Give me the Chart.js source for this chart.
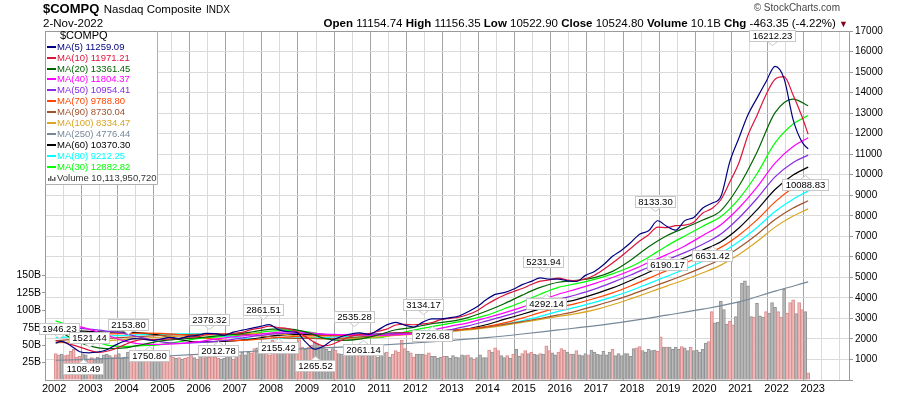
<!DOCTYPE html>
<html>
<head>
<meta charset="utf-8">
<script src="https://cdn.jsdelivr.net/npm/chart.js@4"></script>
<style>
body { margin: 0; background: #fff; font-family: "Liberation Sans", Arial, sans-serif; }
#wrap { position: relative; width: 900px; height: 396px; overflow: hidden; }
#chart { position: absolute; left: 0; top: 0; }
.hdr { position: absolute; white-space: nowrap; color: #000; line-height: 14px; }
</style>
</head>
<body>
<div id="wrap">
  <canvas id="chart" width="900" height="396"></canvas>
  <div class="hdr" style="left:43px;top:1px;"><span style="font-weight:bold;font-size:13px">$COMPQ</span> <span style="font-size:11.5px">Nasdaq Composite</span> <span style="font-size:10px">INDX</span></div>
  <div class="hdr" style="left:43px;top:16px;font-size:11.5px">2-Nov-2022</div>
  <div class="hdr" style="right:52px;top:16px;font-size:11.5px"><b>Open</b> 11154.74 <b>High</b> 11156.35 <b>Low</b> 10522.90 <b>Close</b> 10524.80 <b>Volume</b> 10.1B <b>Chg</b> -463.35 (-4.22%) <span style="color:#800020;font-size:9px">&#9660;</span></div>
  <div class="hdr" style="right:60px;top:1px;font-size:10px;color:#444">&copy; StockCharts.com</div>
</div>
<script>
// monthly Nasdaq moving averages
// sample dates are 'YYYY-MM'

// MA(5) / MA(10): quarterly samples
const qDates = ['2002-01'];
for (let y = 2002; y <= 2021; y++) qDates.push(y + '-03', y + '-06', y + '-09', y + '-12');
qDates.push('2022-03', '2022-06', '2022-09', '2022-11');

const ma5 = [1801, 1878, 1669, 1379, 1326,
  1363, 1472, 1710, 1898,  2011, 1996, 1931, 1996,  2077, 2020, 2123, 2172,
  2273, 2259, 2177, 2331,  2430, 2514, 2610, 2694,  2451, 2356, 2320, 1859,
  1499, 1647, 1944, 2118,  2239, 2293, 2221, 2428,  2683, 2809, 2672, 2581,
  2820, 2973, 2977, 3038,  3120, 3323, 3569, 3904,  4170, 4255, 4419, 4646,
  4806, 4973, 4916, 4913,  4832, 4799, 5096, 5284,  5612, 6025, 6322, 6686,
  7105, 7271, 7756, 7486,  7302, 7763, 7919, 8378,  8611, 8941, 10647, 11788,
  12919, 13731, 14527, 15278,  14679, 12683, 11579, 11259.09];

const ma10 = [1922, 1857, 1735, 1604, 1457,
  1342, 1400, 1535, 1725,  1894, 1973, 1967, 1982,  2003, 2030, 2082, 2109,
  2203, 2231, 2234, 2276,  2322, 2451, 2529, 2617,  2556, 2504, 2361, 2113,
  1830, 1664, 1740, 1942,  2119, 2219, 2262, 2362,  2477, 2677, 2715, 2692,
  2731, 2801, 2941, 3003,  3064, 3188, 3377, 3660,  3916, 4131, 4300, 4457,
  4651, 4815, 4876, 4959,  4872, 4840, 4930, 5102,  5378, 5695, 6040, 6408,
  6767, 7077, 7450, 7418,  7515, 7542, 7687, 8135,  8349, 8779, 9652, 10583,
  11926, 12889, 13899, 14652,  14778, 13879, 12809, 11971.21];

// longer averages: half-year samples
const hDates = ['2002-01'];
for (let y = 2002; y <= 2021; y++) hDates.push(y + '-06', y + '-12');
hDates.push('2022-06', '2022-11');

const ma20 = [2502, 2051, 1676, 1528, 1565, 1730, 1902, 1991, 2055, 2138, 2222,
  2337, 2467, 2490, 2341, 2042, 1931, 1988, 2191, 2447, 2567, 2744, 2853,
  3039, 3346, 3716, 4135, 4510, 4763, 4850, 4986, 5291, 5832, 6491, 7028,
  7411, 7793, 8253, 9449, 11098, 13021, 13684, 13361.45];
const ma30 = [2879, 2628, 2079, 1699, 1635, 1673, 1726, 1866, 2012, 2091, 2147,
  2253, 2382, 2419, 2353, 2218, 2136, 2056, 2063, 2234, 2433, 2603, 2754,
  2932, 3146, 3470, 3800, 4179, 4511, 4693, 4900, 5171, 5513, 5982, 6532,
  7016, 7494, 7963, 8827, 10048, 11547, 12466, 12882.82];
const ma40 = [2747, 2683, 2479, 2184, 1890, 1747, 1733, 1770, 1858, 1993, 2099,
  2187, 2288, 2343, 2322, 2234, 2207, 2193, 2169, 2202, 2261, 2428, 2615,
  2786, 3018, 3273, 3553, 3882, 4179, 4427, 4695, 4991, 5333, 5721, 6109,
  6528, 7040, 7562, 8377, 9393, 10564, 11370, 11804.37];
const ma50 = [2545, 2537, 2478, 2380, 2258, 2050, 1856, 1790, 1818, 1880, 1981,
  2113, 2225, 2273, 2267, 2220, 2216, 2220, 2234, 2277, 2276, 2334, 2447,
  2636, 2866, 3109, 3378, 3649, 3922, 4154, 4426, 4757, 5112, 5495, 5859,
  6204, 6613, 7110, 7892, 8840, 9892, 10597, 10954.41];
const ma60 = [2366, 2395, 2367, 2332, 2336, 2288, 2177, 1973, 1855, 1863, 1910,
  1990, 2124, 2215, 2222, 2183, 2195, 2219, 2241, 2294, 2325, 2370, 2405,
  2498, 2690, 2951, 3202, 3467, 3722, 3919, 4185, 4486, 4846, 5246, 5612,
  5958, 6332, 6738, 7405, 8290, 9281, 9980, 10370.30];
const ma70 = [2203, 2236, 2243, 2244, 2262, 2279, 2273, 2216, 2110, 1976, 1918,
  1956, 2032, 2099, 2147, 2150, 2165, 2188, 2223, 2285, 2319, 2377, 2433,
  2496, 2607, 2779, 3016, 3285, 3525, 3736, 3970, 4247, 4581, 4952, 5329,
  5690, 6064, 6460, 7052, 7797, 8679, 9366, 9788.80];
const ma80 = [2058, 2099, 2115, 2134, 2178, 2215, 2233, 2249, 2242, 2195, 2086,
  2005, 2012, 2043, 2058, 2070, 2121, 2162, 2195, 2255, 2300, 2361, 2420,
  2496, 2603, 2724, 2884, 3097, 3339, 3551, 3780, 4050, 4348, 4695, 5046,
  5397, 5783, 6181, 6744, 7430, 8207, 8808, 9212.25];
const ma90 = [1917, 1967, 2000, 2027, 2076, 2129, 2172, 2200, 2225, 2254, 2241,
  2203, 2109, 2043, 2026, 2013, 2038, 2101, 2165, 2226, 2266, 2331, 2397,
  2472, 2578, 2707, 2846, 2996, 3169, 3358, 3601, 3858, 4149, 4475, 4790,
  5128, 5488, 5885, 6440, 7091, 7821, 8377, 8730.04];
const ma100 = [1804, 1846, 1880, 1920, 1978, 2035, 2083, 2130, 2175, 2211, 2240,
  2267, 2266, 2203, 2089, 2008, 2010, 2039, 2088, 2174, 2235, 2297, 2358,
  2436, 2543, 2664, 2804, 2957, 3100, 3233, 3415, 3663, 3954, 4262, 4575,
  4884, 5221, 5596, 6114, 6745, 7447, 7984, 8334.47];

// MA(250): yearly samples
const yDates = ['2002-01'];
for (let y = 2002; y <= 2021; y++) yDates.push(y + '-12');
yDates.push('2022-11');
const ma250 = [961, 1005, 1075, 1157, 1245, 1341, 1447, 1531, 1602, 1693, 1803,
  1922, 2063, 2241, 2440, 2634, 2877, 3159, 3449, 3802, 4329, 4776.44];

// monthly volume in billions, Jan 2002 .. Nov 2022
const volumeB = [
  38, 36, 37, 35, 36, 41, 44, 33, 34, 38, 36, 30,
  32, 29, 33, 31, 36, 37, 35, 32, 36, 38, 31, 33,
  40, 34, 38, 33, 32, 30, 33, 29, 31, 35, 36, 35,
  36, 33, 34, 33, 31, 32, 30, 31, 33, 35, 32, 30,
  37, 32, 35, 33, 38, 33, 31, 30, 31, 34, 34, 30,
  38, 36, 40, 36, 40, 39, 45, 46, 38, 44, 44, 36,
  57, 45, 46, 43, 42, 44, 49, 39, 52, 58, 47, 44,
  47, 50, 55, 52, 48, 46, 44, 41, 45, 43, 38, 37,
  43, 38, 43, 45, 50, 43, 35, 37, 37, 40, 38, 33,
  42, 39, 40, 33, 37, 42, 40, 57, 45, 41, 39, 33,
  37, 37, 37, 36, 39, 34, 34, 31, 33, 34, 34, 31,
  35, 33, 32, 36, 35, 36, 32, 30, 32, 36, 32, 32,
  43, 40, 46, 42, 35, 32, 35, 31, 37, 44, 34, 38,
  42, 38, 40, 37, 36, 38, 37, 49, 42, 39, 36, 40,
  45, 43, 40, 37, 37, 42, 36, 35, 38, 36, 43, 40,
  37, 36, 41, 36, 40, 44, 35, 38, 35, 38, 38, 34,
  45, 46, 48, 42, 40, 44, 42, 43, 41, 62, 47, 47,
  47, 44, 47, 44, 48, 46, 42, 47, 42, 43, 40, 44,
  53, 55, 98, 82, 83, 113, 101, 80, 84, 79, 91, 112,
  139, 142, 135, 91, 90, 110, 92, 90, 98, 96, 111, 104,
  98, 90, 130, 96, 111, 115, 95, 111, 101, 98, 10.11395072];
// u = up month (grey bar), d = down month (pink bar)
const volumeDir =
  'ddudddddduud' + 'duuuuuuuduuu' + 'uddduudduuuu' + 'ddddududddud' +
  'ududddduuuud' + 'uduuudduuudd' + 'dduuuduudddu' + 'dduuuuuuuduu' +
  'duuudduduudu' + 'uududddddudd' + 'uuudduuuuduu' + 'uuuuududuuuu' +
  'dudduududuud' + 'duduududduud' + 'ddududuuuduu' + 'uuuuuduuuuuu' +
  'udduuuuuddud' + 'uuuuduuduuuu' + 'udduuuuudduu' + 'uuuuduuuduuu' +
  'dduddduddud';

// peak / trough labels
const annDates = ['2002-02', '2002-10', '2002-12', '2004-01', '2004-08', '2006-04', '2006-07',
  '2007-10', '2008-03', '2009-03', '2010-04', '2010-07', '2012-03', '2012-06',
  '2015-07', '2015-08', '2018-08', '2018-12', '2020-03', '2021-11', '2022-10'];
const annValues = [1946.23, 1108.49, 1521.44, 2153.80, 1750.80, 2378.32, 2012.78,
  2861.51, 2155.42, 1265.52, 2535.28, 2061.14, 3134.17, 2726.68,
  5231.94, 4292.14, 8133.30, 6190.17, 6631.42, 16212.23, 10088.83];
const annKind = ['H', 'L', 'H', 'H', 'L', 'H', 'L', 'H', 'L', 'L', 'H', 'L', 'H', 'L',
  'H', 'L', 'H', 'L', 'L', 'H', 'L'];

const yearTicks = [2002, 2023];   // first and last labelled year
const priceTicks = [1000, 17000]; // right axis label range
const volTicks = [25, 150];       // left axis label range (B)

function mpos(s) {
  const p = s.split('-');
  return +p[0] + (+p[1] - 0.5) / 12;
}
function pts(dates, vals) {
  return vals.map((v, i) => ({ x: mpos(dates[i]), y: v }));
}

// legend order as on the chart
const series = [
  { name: 'MA(5)', dates: qDates, vals: ma5, color: '#000080' },
  { name: 'MA(10)', dates: qDates, vals: ma10, color: '#dc143c' },
  { name: 'MA(20)', dates: hDates, vals: ma20, color: '#006400' },
  { name: 'MA(40)', dates: hDates, vals: ma40, color: '#ff00ff' },
  { name: 'MA(50)', dates: hDates, vals: ma50, color: '#8a2be2' },
  { name: 'MA(70)', dates: hDates, vals: ma70, color: '#ff4500' },
  { name: 'MA(90)', dates: hDates, vals: ma90, color: '#a0522d' },
  { name: 'MA(100)', dates: hDates, vals: ma100, color: '#daa520' },
  { name: 'MA(250)', dates: yDates, vals: ma250, color: '#778899' },
  { name: 'MA(60)', dates: hDates, vals: ma60, color: '#000000' },
  { name: 'MA(80)', dates: hDates, vals: ma80, color: '#00ffff' },
  { name: 'MA(30)', dates: hDates, vals: ma30, color: '#00ff00' }
];

const FONT = '"Liberation Sans", Arial, sans-serif';

const datasets = series.map(s => ({
  type: 'line',
  label: s.name,
  data: pts(s.dates, s.vals),
  borderColor: s.color,
  borderWidth: 1.2,
  pointRadius: 0,
  cubicInterpolationMode: 'monotone',
  yAxisID: 'y'
}));

datasets.push({
  type: 'bar',
  label: 'Volume',
  data: volumeB.map((v, i) => ({ x: 2002 + (i + 0.5) / 12, y: v })),
  backgroundColor: volumeB.map((v, i) => volumeDir[i] === 'd' ? '#f0b9b9' : '#b9b9b9'),
  borderColor: volumeB.map((v, i) => volumeDir[i] === 'd' ? '#d98c8c' : '#939393'),
  borderWidth: 1,
  barPercentage: 1,
  categoryPercentage: 1,
  yAxisID: 'yv'
});

const overlay = {
  id: 'overlay',
  afterDraw(chart) {
    const { ctx, chartArea: a, scales } = chart;
    const xs = scales.x, ys = scales.y;
    ctx.save();

    // frame
    ctx.strokeStyle = '#9a9a9a';
    ctx.lineWidth = 1;
    ctx.strokeRect(a.left + 0.5, a.top + 0.5, a.right - a.left - 1, a.bottom - a.top);

    // peak / trough labels
    ctx.font = '9.5px ' + FONT;
    ctx.textAlign = 'center';
    ctx.textBaseline = 'middle';
    annDates.forEach((d, i) => {
      const px = Math.round(xs.getPixelForValue(mpos(d)));
      const py = ys.getPixelForValue(annValues[i]);
      const txt = annValues[i].toFixed(2);
      const w = Math.round(ctx.measureText(txt).width) + 6;
      const h = 11;
      const high = annKind[i] === 'H';
      const top = Math.round(high ? py - 6 - h : py + 6);
      const edge = high ? top + h : top;
      const tip = high ? edge + 4 : edge - 4;
      ctx.beginPath();
      ctx.moveTo(px - 4.5, edge + 0.5);
      ctx.lineTo(px + 0.5, tip + 0.5);
      ctx.lineTo(px + 5.5, edge + 0.5);
      ctx.fillStyle = '#fff';
      ctx.fill();
      ctx.strokeStyle = '#c8c8c8';
      ctx.stroke();
      ctx.fillStyle = '#fff';
      ctx.fillRect(px - w / 2, top, w, h);
      ctx.strokeRect(Math.round(px - w / 2) + 0.5, top + 0.5, w, h);
      ctx.fillStyle = '#000';
      ctx.fillText(txt, px + 0.5, top + h / 2 + 1);
    });

    // legend box
    const lx = a.left, ly = a.top, lw = 112, rowH = 10.9;
    const lh = 153;
    ctx.fillStyle = '#fff';
    ctx.fillRect(lx + 1, ly + 1, lw, lh);
    ctx.strokeStyle = '#b0b0b0';
    ctx.beginPath();
    ctx.moveTo(lx + lw + 0.5, ly);
    ctx.lineTo(lx + lw + 0.5, ly + lh + 0.5);
    ctx.lineTo(lx, ly + lh + 0.5);
    ctx.stroke();

    ctx.textAlign = 'left';
    ctx.textBaseline = 'middle';
    ctx.font = '11px ' + FONT;
    ctx.fillStyle = '#000';
    ctx.fillText('$COMPQ', lx + 15, ly + 5);
    ctx.font = '9.5px ' + FONT;
    series.forEach((s, i) => {
      const cy = Math.round(ly + 15.7 + i * rowH);
      ctx.fillStyle = s.color;
      ctx.fillRect(lx + 2, cy - 1, 9, 2);
      ctx.fillText(s.name + ' ' + s.vals[s.vals.length - 1].toFixed(2), lx + 12, cy + 0.5);
    });
    const vy = Math.round(ly + 15.7 + series.length * rowH);
    ctx.fillStyle = '#666';
    [3, 5, 2, 4].forEach((hh, k) => ctx.fillRect(lx + 3 + k * 2, vy + 3 - hh, 1.5, hh));
    ctx.fillStyle = '#333';
    const lastVol = Math.round(volumeB[volumeB.length - 1] * 1e9);
    ctx.fillText('Volume ' + lastVol.toLocaleString('en-US'), lx + 12, vy + 0.5);

    ctx.restore();
  }
};

new Chart(document.getElementById('chart'), {
  data: { datasets: datasets },
  options: {
    responsive: false,
    animation: false,
    events: [],
    devicePixelRatio: 1,
    layout: { padding: { top: 31, left: 0, right: 0, bottom: 0 } },
    plugins: { legend: { display: false }, tooltip: { enabled: false } },
    scales: {
      x: {
        type: 'linear',
        position: 'bottom',
        min: 2002,
        max: 2023.78,
        afterFit(s) { s.height = 16; },
        ticks: {
          stepSize: 0.5,
          maxTicksLimit: 100,
          includeBounds: false,
          autoSkip: false,
          maxRotation: 0,
          padding: 2,
          color: '#000',
          font: { family: FONT, size: 11 },
          callback: v => (Number.isInteger(v) && v >= yearTicks[0] && v <= yearTicks[1]) ? String(v) : ''
        },
        grid: {
          drawTicks: false,
          color: c => (c.tick && Number.isInteger(c.tick.value)) ? '#a4a4a4' : '#dadada'
        },
        border: { display: false }
      },
      y: {
        type: 'linear',
        position: 'right',
        min: 0,
        max: 17000,
        afterFit(s) { s.width = 50; },
        ticks: {
          stepSize: 1000,
          maxTicksLimit: 100,
          padding: 2,
          color: '#000',
          font: { family: FONT, size: 10 },
          callback: v => (v >= priceTicks[0] && v <= priceTicks[1]) ? String(v) : ''
        },
        grid: { color: '#dadada', tickLength: 3, tickColor: '#9a9a9a' },
        border: { display: false }
      },
      yv: {
        type: 'linear',
        position: 'left',
        min: 0,
        max: 500,
        afterFit(s) { s.width = 45; },
        ticks: {
          stepSize: 25,
          maxTicksLimit: 100,
          padding: 1,
          color: '#000',
          font: { family: FONT, size: 10.5 },
          callback: v => (v >= volTicks[0] && v <= volTicks[1]) ? v + 'B' : ''
        },
        grid: {
          drawOnChartArea: false,
          tickLength: 3,
          color: c => (c.tick && c.tick.value >= volTicks[0] && c.tick.value <= volTicks[1]) ? '#9a9a9a' : 'rgba(0,0,0,0)'
        },
        border: { display: false }
      }
    }
  },
  plugins: [overlay]
});
</script>
</body>
</html>
